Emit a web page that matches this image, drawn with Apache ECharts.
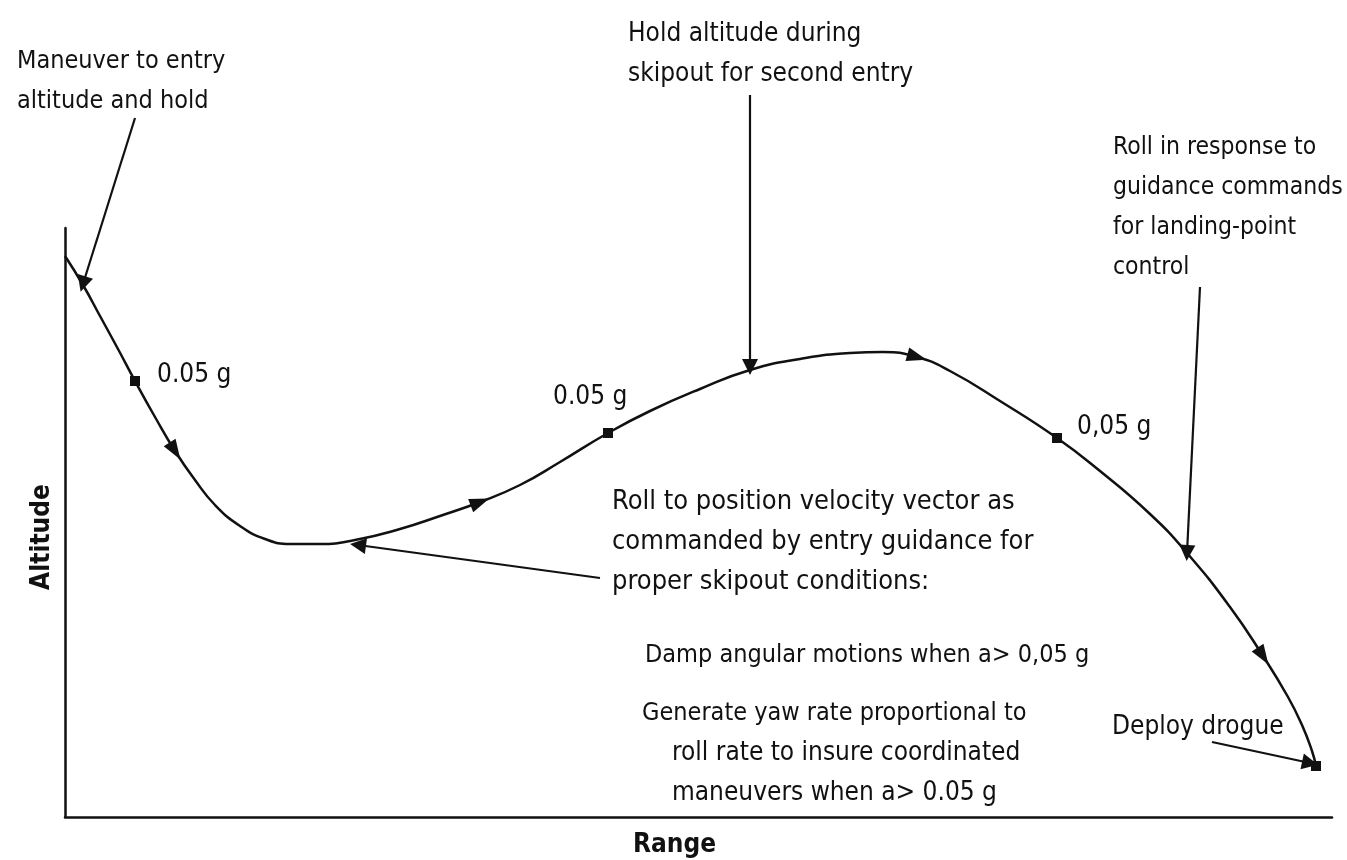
<!DOCTYPE html>
<html><head><meta charset="utf-8">
<script src="https://cdn.jsdelivr.net/npm/echarts@6/dist/echarts.min.js"></script>
<style>html,body{margin:0;padding:0;background:#fff}#c{width:1347px;height:860px}</style>
</head><body><div id="c"></div>
<script>
// Trajectory (arbitrary units): range vs altitude
const trajRange = [0,18,35,53,70,90,110,130,150,175,200,225,255,290,335,375,415,455,495,543,585,635,685,735,785,818,852,885,935,992,1035,1085,1122,1165,1198,1223,1237,1247,1251];
const trajAlt   = [561,532,501,468,436,400,366,337,312,291,278,273,273,277,288,301,315,332,355,384,406,428,447,458,464,465,460,446,416,379,346,303,264,210,161,120,92,66,51];
// 0.05 g points
const gPointRange = [70,543,992];
const gPointAlt   = [436,384,379];
const gLabels = ['0.05 g','0.05 g','0,05 g'];
// drogue deployment point
const drogueRange = [1251];
const drogueAlt = [51];
// direction-of-flight arrows on the trajectory
const flowArrowRange = [110,415,852,1198];
const flowArrowAlt   = [366,315,460,161];
// leader arrows: start and tip
const leaderFromRange = [70,685,1135,535,1147];
const leaderFromAlt   = [699,722,530,239,75];
const leaderToRange   = [18,685,1122,293,1245];
const leaderToAlt     = [533,450,264,272,54];
// annotation texts and their anchors (top-left)
const noteTexts = [
  'Maneuver to entry\naltitude and hold',
  'Hold altitude during\nskipout for second entry',
  'Roll in response to\nguidance commands\nfor landing-point\ncontrol',
  'Roll to position velocity vector as\ncommanded by entry guidance for\nproper skipout conditions:',
  'Damp angular motions when a> 0,05 g',
  'Generate yaw rate proportional to',
  'roll rate to insure coordinated\nmaneuvers when a> 0.05 g',
  'Deploy drogue'
];
const noteRange = [-48,563,1048,547,580,577,607,1047];
const noteAlt   = [776,803,689,335,182,124,84,110];
const gLabelRange = [92,488,1012];
const gLabelAlt   = [457,435,405];
const xTitle = 'Range', yTitle = 'Altitude';
const xTitlePos = [568,-13];
const yTitlePos = [-23,280];

const FONT = "'Liberation Sans Narrow','DejaVu Sans Condensed','Arial Narrow',sans-serif";
const INK = '#111';
const FS = 26;
const noteFontSize = [25,26,24.5,27,25,25,26,26];

const chart = echarts.init(document.getElementById('c'));
const traj = trajRange.map((x,i)=>[x,trajAlt[i]]);
function dirAt(x){
  let best=1,bd=1e9;
  for(let i=1;i<trajRange.length-1;i++){const d=Math.abs(trajRange[i]-x);if(d<bd){bd=d;best=i;}}
  const dx=trajRange[best+1]-trajRange[best-1], dy=trajAlt[best+1]-trajAlt[best-1];
  return Math.atan2(dy,dx)*180/Math.PI - 90;
}
chart.setOption({
  animation:false,
  backgroundColor:'#fff',
  grid:{left:65,right:15,top:228,bottom:43},
  xAxis:{type:'value',min:0,max:1267,axisLine:{show:true,onZero:false,lineStyle:{color:INK,width:2.5}},axisTick:{show:false},axisLabel:{show:false},splitLine:{show:false}},
  yAxis:{type:'value',min:0,max:589,axisLine:{show:true,onZero:false,lineStyle:{color:INK,width:2.5}},axisTick:{show:false},axisLabel:{show:false},splitLine:{show:false}},
  series:[
    {type:'line',data:traj,smooth:0.5,showSymbol:false,lineStyle:{color:INK,width:2.5},clip:false,z:2},
    {type:'scatter',data:gPointRange.map((x,i)=>[x,gPointAlt[i]]).concat(drogueRange.map((x,i)=>[x,drogueAlt[i]])),symbol:'rect',symbolSize:10,itemStyle:{color:INK,opacity:1},z:3,clip:false},
    {type:'scatter',data:flowArrowRange.map((x,i)=>[x,flowArrowAlt[i]]),symbol:'triangle',symbolSize:[14,20],
      symbolRotate:(v)=>dirAt(v[0]),itemStyle:{color:INK,opacity:1},z:3,clip:false},
    {type:'lines',coordinateSystem:'cartesian2d',clip:false,
      data:leaderFromRange.map((x,i)=>({coords:[[x,leaderFromAlt[i]],[leaderToRange[i],leaderToAlt[i]]]})),
      symbol:['none','triangle'],symbolSize:16,lineStyle:{color:INK,width:2.2,opacity:1},z:3}
  ]
});
const px = (x,y)=>chart.convertToPixel({gridIndex:0},[x,y]);
const els=[];
noteTexts.forEach((t,i)=>{
  const p=px(noteRange[i],noteAlt[i]);
  els.push({type:'text',x:p[0],y:p[1],style:{text:t,fontFamily:FONT,fontSize:noteFontSize[i],lineHeight:40,fill:INK,align:'left',verticalAlign:'top'}});
});
gLabels.forEach((t,i)=>{
  const p=px(gLabelRange[i],gLabelAlt[i]);
  els.push({type:'text',x:p[0],y:p[1],style:{text:t,fontFamily:FONT,fontSize:FS,lineHeight:30,fill:INK,align:'left',verticalAlign:'top'}});
});
let p=px(xTitlePos[0],xTitlePos[1]);
els.push({type:'text',x:p[0],y:p[1],style:{text:xTitle,fontFamily:FONT,fontSize:FS,lineHeight:30,fill:INK,fontWeight:'bold',align:'left',verticalAlign:'top'}});
p=px(yTitlePos[0],yTitlePos[1]);
els.push({type:'text',x:p[0],y:p[1],rotation:Math.PI/2,style:{text:yTitle,fontFamily:FONT,fontSize:FS,fill:INK,fontWeight:'bold',align:'center',verticalAlign:'middle'}});
chart.setOption({graphic:{elements:els}});
</script>
</body></html>
